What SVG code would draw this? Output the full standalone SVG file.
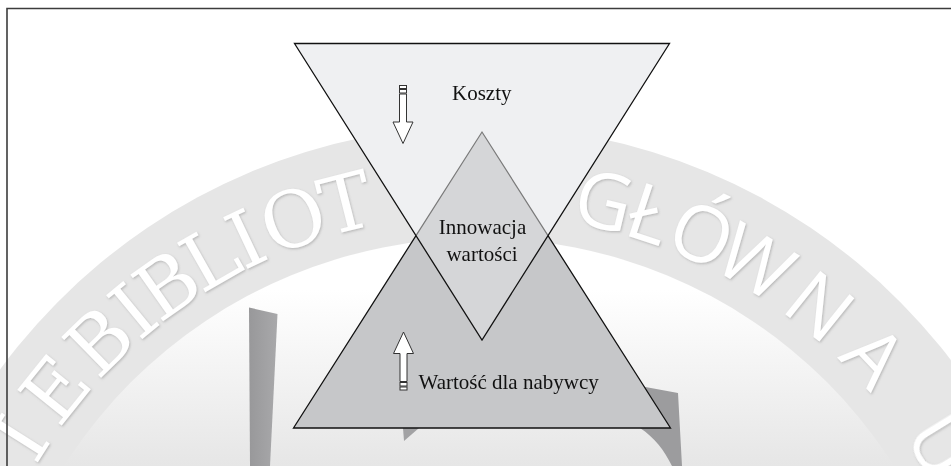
<svg xmlns="http://www.w3.org/2000/svg" width="951" height="466" viewBox="0 0 951 466">
  <style>
    .label { font-family: "Liberation Serif", "Times New Roman", serif; font-size: 21px; fill: #111; }
    .wm { font-size: 78px; fill: #ffffff; filter: url(#wmShadow); }
    .wmSerif { font-family: "DejaVu Serif", "Liberation Serif", serif; font-weight: 300; }
    .wmSans { font-family: "Open Sans", "Lato", "DejaVu Sans", sans-serif; font-weight: 400; }
    .tri { stroke: #111; stroke-width: 1.3; stroke-linejoin: miter; }
    .arrowPart { fill: #fff; stroke: #333; stroke-width: 1; }
  </style>
  <defs>
    <filter id="wmShadow" x="-20%" y="-20%" width="140%" height="140%">
      <feDropShadow dx="1" dy="1.2" stdDeviation="0.9" flood-color="#8a8a8a" flood-opacity="0.5"/>
    </filter>
    <linearGradient id="innerGrad" gradientUnits="userSpaceOnUse" x1="0" y1="290" x2="0" y2="466">
      <stop offset="0" stop-color="#ffffff"/>
      <stop offset="1" stop-color="#e6e6e6"/>
    </linearGradient>
    <linearGradient id="barGrad" gradientUnits="userSpaceOnUse" x1="249" y1="0" x2="278" y2="0">
      <stop offset="0" stop-color="#98989a"/>
      <stop offset="1" stop-color="#a9a9ab"/>
    </linearGradient>
    <g id="blockArrow">
      <rect class="arrowPart" x="-3.5" y="0" width="7" height="3" fill="#666"/>
      <rect class="arrowPart" x="-3.5" y="4" width="7" height="3.5"/>
      <path class="arrowPart" d="M -3.5 8.5 L 3.5 8.5 L 3.5 36.5 L 10 36.5 L 0 58 L -10 36.5 L -3.5 36.5 Z"/>
    </g>
  </defs>

  <!-- background watermark (library stamp) -->
  <g id="watermark">
    <rect x="0" y="0" width="951" height="466" fill="#ffffff"/>
    <ellipse cx="479" cy="730" rx="597" ry="604" fill="#e6e6e6"/>
    <circle cx="479" cy="730" r="492" fill="url(#innerGrad)"/>
    <polygon points="249,307.5 277.5,314 270,466 250,466" fill="url(#barGrad)"/>
    <path d="M 640 386 L 678 393 L 682 466 L 672 466 C 664 450 655 438 640 428 Z" fill="#9c9c9e"/>
    <polygon points="403,428 419,428 404,441" fill="#a2a2a4"/>
    <g class="wm wmSerif" text-anchor="middle">
      <text x="479" y="214" transform="rotate(-57.5 479 730)">I</text>
      <text x="479" y="214" transform="rotate(-51.2 479 730)">E</text>
      <text x="479" y="214" transform="rotate(-44.3 479 730)">B</text>
      <text x="479" y="214" transform="rotate(-39.5 479 730)">I</text>
      <text x="479" y="214" transform="rotate(-35.0 479 730)">B</text>
      <text x="479" y="214" transform="rotate(-29.6 479 730)">L</text>
      <text x="479" y="214" transform="rotate(-25.4 479 730)">I</text>
      <text x="479" y="214" transform="rotate(-20.0 479 730)">O</text>
      <text x="479" y="214" transform="rotate(-14.2 479 730)">T</text>
    </g>
    <g class="wm wmSans" text-anchor="middle">
      <text x="479" y="214" transform="rotate(13.3 479 730)">G</text>
      <text x="479" y="214" transform="rotate(18.3 479 730)">Ł</text>
      <text x="479" y="214" transform="rotate(24.2 479 730)">Ó</text>
      <text x="479" y="214" transform="rotate(30.6 479 730)">W</text>
      <text x="479" y="214" transform="rotate(38.8 479 730)">N</text>
      <text x="479" y="214" transform="rotate(46.6 479 730)">A</text>
      <text x="479" y="214" transform="rotate(58.4 479 730)">U</text>
    </g>
  </g>

  <!-- value for buyer: upright triangle -->
  <g id="value">
    <polygon class="tri" points="482,132 670.5,428 293.5,428" fill="#c6c7c9"/>
    <text class="label" x="418.5" y="389">Wartość dla nabywcy</text>
  </g>

  <!-- costs: inverted triangle -->
  <g id="costs">
    <polygon points="294.5,43.5 669.5,43.5 482,340" fill="#eff0f2"/>
    <text class="label" x="452" y="100">Koszty</text>
  </g>

  <!-- value innovation: overlap -->
  <g id="innovation">
    <polygon points="482,132 548,235.6 482,340 416,235.6" fill="#d5d6d8"/>
    <polyline points="416,235.6 482,132 548,235.6" fill="none" stroke="#7a7a7a" stroke-width="1.2"/>
    <polygon points="294.5,43.5 669.5,43.5 482,340" fill="none" class="tri"/>
    <text class="label" x="482.5" y="234" text-anchor="middle">Innowacja</text>
    <text class="label" x="482" y="260.5" text-anchor="middle">wartości</text>
  </g>

  <!-- direction arrows -->
  <g id="connectors">
    <use href="#blockArrow" transform="translate(403 85.5)"/>
    <use href="#blockArrow" transform="translate(403.5 390) rotate(180)"/>
  </g>

  <!-- frame -->
  <g id="frame">
    <path d="M 7 466 V 8.5 H 951" fill="none" stroke="#3c3c3c" stroke-width="1.6"/>
  </g>
</svg>
